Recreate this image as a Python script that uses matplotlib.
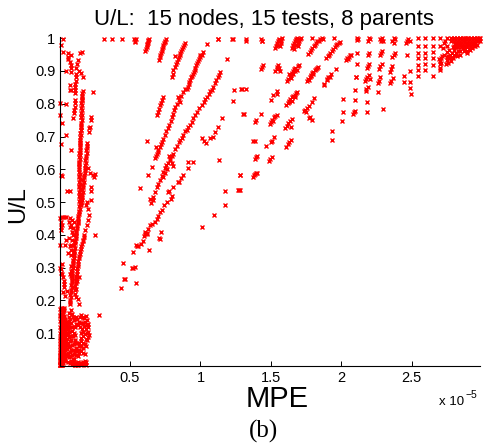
import matplotlib
matplotlib.use('Agg')
import matplotlib.pyplot as plt

plt.rcParams['font.family'] = ['Liberation Sans', 'DejaVu Sans']

# values, MPE in units of 1e-5, U/L as is

# near the y axis, upper part
left_top_x = [.026,.012,.026,.057,.062,.085,.062,.078,.083,.083,.081,.128,.123,.116,.047,.120,.140,.152,.166,.145,.160,.117,.114,.112,.111,.111,.111,.078,.071,.085,.235,.003,.047,.109,.107,.107,.104,.102,.007,.099,.017,.220,.220,.043,.014,.085,.209,.206,.216,.012,.016,.052,.073,.204,.213,.238,.250,.247,.225,.220,.222]
left_top_y = [.998,.979,.958,.955,.943,.948,.936,.928,.918,.908,.898,.933,.920,.908,.900,.892,.900,.894,.882,.956,.958,.880,.870,.861,.852,.842,.832,.856,.843,.841,.835,.803,.799,.811,.801,.791,.781,.771,.765,.755,.741,.760,.750,.705,.676,.658,.725,.715,.730,.582,.580,.535,.535,.605,.590,.582,.585,.575,.545,.535,.505]

# the long streaks beside the axis
streak_a_x = [.165,.163,.162,.161,.160,.159,.157,.155,.153,.150,.148,.147,.146,.145,.142,.140,.140,.142,.143,.145,.146,.147,.146,.145,.142,.138,.134,.130,.125,.119,.116,.112,.108,.105,.101,.098,.094,.092,.090,.088,.086,.082,.080,.078,.158,.152,.149,.146,.141,.137,.136,.139,.141,.150,.140,.128,.120,.110,.105,.098]
streak_a_y = [.840,.825,.810,.795,.780,.765,.750,.735,.720,.705,.690,.675,.660,.645,.630,.615,.600,.585,.570,.555,.540,.525,.510,.495,.480,.465,.450,.435,.420,.405,.390,.375,.360,.345,.330,.315,.300,.285,.270,.255,.240,.225,.210,.195,.810,.760,.720,.680,.650,.620,.580,.545,.520,.500,.470,.440,.410,.380,.350,.320]
streak_a2_x = [.160,.158,.156,.155,.153,.152,.151,.149,.147,.146,.144,.143,.142,.140,.138,.136,.135,.136,.138,.140,.141,.142,.141,.139,.136,.132,.128,.124,.120,.114,.110,.106,.103,.100,.097,.094,.091,.088,.086,.084,.082,.078,.076,.074]
streak_a2_y = [.832,.818,.802,.788,.772,.758,.742,.728,.712,.698,.682,.668,.652,.638,.622,.608,.592,.578,.562,.548,.532,.518,.502,.488,.472,.458,.442,.428,.412,.398,.382,.368,.352,.338,.322,.308,.292,.278,.262,.248,.232,.218,.202,.188]
streak_b_x = [.197,.195,.192,.190,.187,.184,.180,.176,.172,.168,.165,.162,.158,.155,.150,.186,.197,.204,.207,.200,.192,.183,.176,.168,.155,.145,.139,.134,.129,.125,.120,.116,.112,.110,.135,.125,.120,.110]
streak_b_y = [.680,.665,.650,.635,.620,.605,.590,.575,.560,.545,.530,.515,.505,.497,.490,.490,.500,.480,.460,.445,.430,.415,.400,.385,.365,.350,.335,.320,.305,.290,.275,.260,.245,.232,.270,.260,.235,.220]
streak_b2_x = [.192,.190,.186,.184,.181,.178,.174,.170,.166,.162,.159,.156,.153,.172,.164,.158,.150,.142,.136,.130,.126,.122,.118,.114]
streak_b2_y = [.672,.658,.642,.628,.612,.598,.582,.568,.552,.538,.522,.510,.500,.395,.380,.372,.358,.342,.328,.312,.298,.282,.268,.252]
streak_c_x = [.083,.080,.078,.085,.090,.085,.080,.075,.070,.085,.095,.100,.095,.088,.080,.060,.045,.040,.018,.010,.003,.002,.012,.020,.025,.030,.035,.007,.010,.014,.020,.030,.016,.008,.078,.086,.251,.282,.048,.066,.075,.090,.055,.040,.030,.024]
streak_c_y = [.305,.290,.280,.275,.260,.355,.340,.365,.390,.430,.420,.440,.400,.385,.370,.346,.385,.370,.430,.415,.370,.300,.295,.280,.270,.260,.250,.450,.440,.425,.455,.455,.310,.285,.450,.445,.401,.157,.455,.440,.425,.410,.230,.215,.240,.225]

# dense patch at the origin
origin_x = [.000,.002,.004,.006,.008,.010,.012,.015,.018,.020,.000,.002,.005,.008,.011,.014,.017,.020,.023,.026,.000,.003,.006,.009,.012,.016,.020,.024,.028,.032,.036,.040,.000,.004,.008,.012,.016,.020,.024,.028,.034,.040,.046,.052,.058,.001,.005,.009,.013,.018,.023,.028,.033,.038,.044,.050,.056,.062,.068,.074,.002,.007,.012,.017,.022,.027,.032,.037,.042,.048,.054,.060,.066,.072,.078,.084,.090,.003,.008,.013,.018,.024,.030,.036,.042,.048,.054,.060,.066,.072,.078,.084,.090,.096,.102,.108,.004,.010,.016,.022,.028,.034,.040,.046,.052,.058,.064,.070,.076,.082,.088,.094,.100,.106,.003,.009,.015,.021,.027,.033,.039,.045,.060,.070,.080,.090,.098,.104,.002,.006,.010,.014,.018,.022,.026,.030,.034,.065,.075,.085,.092,.100,.108,.003,.008,.013,.017,.021,.025,.029,.033,.070,.080,.088,.095,.102,.110]
origin_y = [.002,.004,.002,.006,.003,.005,.002,.004,.006,.002,.015,.012,.018,.011,.016,.012,.018,.014,.010,.016,.030,.026,.034,.028,.032,.025,.035,.028,.032,.026,.020,.014,.048,.044,.052,.045,.050,.043,.052,.046,.040,.048,.036,.030,.012,.066,.062,.070,.064,.068,.060,.070,.062,.066,.058,.064,.052,.040,.026,.010,.084,.080,.088,.082,.086,.078,.088,.080,.084,.076,.082,.070,.058,.044,.030,.016,.006,.102,.098,.106,.100,.104,.096,.106,.098,.102,.094,.100,.088,.076,.062,.048,.034,.020,.010,.004,.120,.116,.124,.118,.122,.114,.124,.116,.120,.112,.118,.104,.092,.078,.064,.050,.036,.020,.138,.134,.142,.136,.140,.132,.142,.134,.128,.136,.120,.108,.090,.066,.156,.152,.160,.154,.158,.150,.160,.152,.148,.150,.142,.130,.118,.102,.080,.174,.170,.178,.172,.176,.168,.178,.170,.162,.170,.160,.150,.140,.120]
blob_x = [.115,.125,.135,.145,.155,.165,.175,.185,.195,.205,.115,.130,.150,.165,.180,.195,.205,.145,.160,.175,.190,.205,.212,.110,.150,.165,.180,.195,.205,.110,.125,.140,.155,.170,.185,.195,.120,.135,.150,.165,.180,.110,.125,.140,.155,.170,.190,.115,.130,.140,.155,.170,.180,.105,.095,.100,.108,.115,.122,.128,.135,.146,.150,.156,.120,.130,.135,.165,.172,.180,.185,.190]
blob_y = [.150,.142,.135,.150,.156,.150,.145,.152,.140,.128,.128,.125,.130,.132,.135,.125,.118,.120,.112,.122,.114,.105,.095,.095,.100,.105,.098,.102,.088,.072,.070,.070,.085,.090,.082,.078,.055,.060,.075,.070,.068,.045,.045,.050,.062,.055,.060,.035,.030,.040,.045,.040,.038,.005,.012,.008,.004,.010,.003,.012,.006,.010,.003,.008,.210,.205,.190,.012,.005,.016,.012,.004]

# middle streaks
mid_a_x = [.315,.374,.445,.531,.536,.540,.534,.610,.614,.618,.620,.622,.625,.628,.630,.632,.708,.712,.716,.720,.724,.728,.732,.736,.742,.748,.752,.756,.796,.802,.808,.816,.824,.832,.840,.846,.852,.858,.864,.870,.878,.884,.891,.818,1.045]
mid_a_y = [.998,.998,.998,.996,.992,.998,.988,.962,.968,.972,.978,.982,.986,.990,.994,.998,.933,.942,.950,.956,.962,.968,.974,.978,.984,.988,.992,.996,.882,.892,.902,.912,.920,.928,.936,.942,.948,.954,.960,.966,.972,.978,.984,.945,.981]
mid_b_x = [.903,.910,.916,.922,.928,.934,.940,.946,.952,.958,.964,.970,.976,.982,.988,.994,1.000,1.008,1.020,.678,.684,.690,.696,.702,.710,.718,.726,.737,.748,.758,.768,.778,.788,.796,.804,.812,.820,.832,.845,.860,.875,.890,.690,.700,.708,.716,.722,.730,.737,.618,.683,.840,.852]
mid_b_y = [.846,.852,.860,.866,.872,.880,.886,.892,.898,.904,.910,.918,.924,.930,.936,.942,.948,.950,.958,.633,.640,.648,.654,.660,.668,.676,.682,.692,.704,.716,.726,.736,.748,.760,.770,.780,.790,.800,.812,.824,.836,.845,.765,.775,.785,.795,.802,.812,.820,.687,.668,.820,.805]
mid_c_x = [.666,.678,.690,.700,.713,.725,.735,.745,.755,.772,.785,.795,.808,.820,.832,.845,.855,.867,.878,.890,.902,.915,.925,.938,.950,.962,.975,.990,1.010,1.022,1.034,1.046,1.058,1.070,1.080,1.092,1.102,1.112,1.122,1.132,1.140,.775,.785,.795,.805,.760,.748,.736]
mid_c_y = [.516,.530,.545,.556,.567,.580,.592,.604,.612,.618,.628,.640,.648,.662,.672,.684,.689,.696,.706,.716,.720,.728,.736,.745,.756,.766,.774,.786,.796,.806,.814,.822,.830,.838,.841,.852,.862,.872,.880,.888,.897,.640,.630,.620,.610,.600,.590,.578]
mid_d_x = [.760,.740,.726,.713,.700,.690,.676,.654,.645,.630,.620,.607,.600,.590,.575,.560,.547,.540,.524,.536,.525,.515,.453,.457,.465,.434,.543,.635,.720,.706,.712,1.012,1.097,1.173,.571,.630,.654,.915,.945,.915,.879,.844,.772,.808,.860,.850,.800,.790,.780,.665,.650,.640,.620,.610]
mid_d_y = [.500,.490,.476,.470,.458,.448,.440,.433,.430,.418,.406,.404,.396,.380,.372,.366,.366,.370,.349,.303,.300,.298,.313,.266,.266,.239,.254,.354,.410,.391,.388,.425,.461,.491,.542,.582,.608,.621,.623,.603,.582,.562,.531,.547,.572,.560,.520,.510,.535,.505,.498,.510,.402,.410]
mid_e_x = [1.010,1.026,1.040,1.070,1.088,1.105,1.122,1.150,1.133,1.282,1.175,1.265,1.272,1.235,1.230,1.287,1.306,1.187,1.123,1.128,1.223,1.228,1.293,1.324,1.320,1.325]
mid_e_y = [.694,.685,.681,.694,.700,.715,.730,.755,.628,.582,.533,.536,.536,.841,.808,.846,.770,.935,.998,.998,.998,.998,.846,.844,.996,.992]

# diagonal clusters on the right
right_a_x = [1.430,1.440,1.435,1.530,1.535,1.540,1.545,1.550,1.555,1.560,1.565,1.570,1.575,1.580,1.648,1.655,1.660,1.665,1.670,1.675,1.680,1.685,1.690,1.695,1.700,1.705,1.712,1.665,1.680,1.695,1.766,1.776,1.786,1.795,1.804,1.814,1.822,1.830,1.840,1.850,1.861,1.795,1.868,1.892,1.902,1.912,1.922,1.932,1.942,1.952,1.962,1.972,1.982,1.991,1.949,2.030,2.040,2.046,2.055,2.062,2.070]
right_a_y = [.998,.992,.990,.970,.975,.980,.985,.990,.995,.998,.975,.985,.992,1.000,.970,.975,.980,.985,.990,.995,.998,1.000,.975,.985,.992,.998,1.000,.968,.978,.988,.953,.958,.965,.970,.975,.980,.985,.990,.992,.996,.999,.999,.998,.938,.945,.950,.955,.962,.968,.972,.978,.982,.985,.989,.999,.932,.940,.936,.943,.948,.950]
right_b_x = [1.428,1.435,1.442,1.532,1.540,1.546,1.552,1.558,1.565,1.612,1.622,1.632,1.640,1.650,1.658,1.666,1.674,1.682,1.690,1.702,1.625,1.640,1.655,1.670,1.754,1.764,1.774,1.784,1.792,1.800,1.810,1.820,1.830,1.837,1.770,1.785,1.800,1.880,1.900,1.908,1.925,1.540,1.518,1.504,1.545,1.608,1.618,1.628,1.638,1.648,1.658,1.668,1.678,1.688,1.630,1.650,1.670,1.735,1.745,1.755,1.770,1.790,1.807,1.750]
right_b_y = [.905,.913,.918,.900,.912,.905,.918,.908,.900,.870,.876,.882,.888,.895,.900,.905,.910,.902,.915,.918,.890,.878,.892,.900,.870,.876,.882,.888,.893,.898,.903,.907,.910,.913,.872,.885,.892,.858,.875,.882,.890,.831,.826,.811,.840,.796,.802,.808,.814,.820,.824,.828,.832,.836,.806,.808,.820,.777,.782,.786,.794,.804,.816,.776]
right_c_x = [1.490,1.500,1.510,1.520,1.530,1.546,1.515,1.600,1.612,1.624,1.636,1.648,1.640,1.770,1.780,1.790,1.392,1.386,1.428,1.305,1.375,1.385,1.506,1.500,1.522,1.466,1.608,1.620,1.630,1.642,1.392,1.384,1.398,1.487,1.496,1.506,1.372,1.380,1.388,1.396,1.404,1.281,1.281]
right_c_y = [.738,.744,.750,.758,.762,.767,.748,.725,.732,.740,.746,.753,.728,.755,.760,.750,.750,.745,.770,.768,.685,.685,.687,.684,.698,.671,.668,.676,.682,.690,.636,.630,.640,.625,.632,.638,.576,.582,.585,.590,.588,.582,.536]
right_d_x = [2.114,2.110,2.118,2.197,2.190,2.204,2.282,2.275,2.292,2.287,2.370,2.360,2.380,2.375,2.455,2.465,2.475,2.490,2.114,2.197,2.190,2.282,2.276,2.288,2.370,2.362,2.378,2.465,2.110,2.105,2.188,2.180,2.195,2.275,2.265,2.285,2.352,2.360,2.345,2.105,2.165,2.175,2.185,2.195,2.205,2.265,2.275,2.260,2.355,2.345,2.365,2.098,2.098,2.172,2.178,2.186,2.263,2.181,2.015,2.010,2.090,2.085,2.095,2.183,2.297,2.005,1.934,1.934,1.876,1.895,1.920,1.960]
right_d_y = [.999,.995,.996,.999,.992,.996,.990,.998,.992,.999,.985,.992,.996,.999,.985,.992,.998,.990,.956,.956,.950,.955,.948,.960,.948,.942,.955,.948,.921,.880,.915,.908,.920,.915,.905,.922,.905,.915,.898,.880,.868,.876,.882,.888,.876,.870,.880,.862,.870,.862,.878,.843,.811,.838,.846,.850,.837,.806,.814,.775,.774,.768,.778,.774,.783,.746,.716,.689,.860,.872,.882,.905]

# grid of points in the top right corner
grid_x = [2.488,2.488,2.488,2.492,2.441,2.441,2.650,2.543,2.543,2.543,2.543,2.543,2.543,2.543,2.595,2.595,2.595,2.595,2.595,2.595,2.647,2.647,2.647,2.647,2.647,2.697,2.697,2.702,2.702,2.702,2.702,2.690,2.749,2.749,2.749,2.749,2.749,2.760,2.770,2.796,2.796,2.796,2.796,2.785,2.844,2.844,2.844,2.844,2.820,2.891,2.891,2.891,2.891,2.939,2.939,2.939,2.986,2.986,2.970,2.965,2.950,2.925,2.910,2.905,2.880,2.870,2.860,2.830,2.815,2.810,2.780,2.770,2.765,2.735,2.725,2.720,2.780,2.800,2.820,2.840,2.860,2.880,2.900,2.920,2.940,2.960,2.975,2.800,2.820,2.840,2.860,2.880,2.900,2.920,2.940,2.960,2.805,2.825,2.845,2.865,2.885,2.905,2.925,2.945,2.790,2.810,2.830,2.850,2.870,2.890,2.910,2.930,2.790,2.760,2.780,2.740,2.730,2.715,2.710,2.705]
grid_y = [.900,.867,.849,.831,.884,.867,.884,.999,.975,.956,.938,.918,.903,.884,.999,.975,.956,.938,.921,.903,.999,.975,.958,.938,.918,.999,.975,.930,.920,.910,.903,.935,.999,.975,.958,.943,.933,.925,.940,.999,.975,.965,.950,.955,.999,.985,.960,.950,.945,.999,.985,.960,.955,.999,.985,.975,.999,.990,.990,.980,.975,.970,.965,.980,.975,.960,.970,.960,.955,.985,.990,.950,.965,.990,.985,.970,.999,.999,.999,.999,.999,.999,.999,.999,.999,.999,.999,.992,.992,.992,.992,.992,.992,.992,.992,.992,.983,.983,.983,.983,.983,.983,.983,.983,.972,.972,.972,.972,.972,.972,.972,.972,.940,.945,.930,.920,.950,.945,.938,.925]

groups = [(left_top_x, left_top_y), (streak_a_x, streak_a_y), (streak_a2_x, streak_a2_y),
          (streak_b_x, streak_b_y), (streak_b2_x, streak_b2_y),
          (streak_c_x, streak_c_y), (origin_x, origin_y), (blob_x, blob_y),
          (mid_a_x, mid_a_y), (mid_b_x, mid_b_y), (mid_c_x, mid_c_y), (mid_d_x, mid_d_y),
          (mid_e_x, mid_e_y), (right_a_x, right_a_y), (right_b_x, right_b_y),
          (right_c_x, right_c_y), (right_d_x, right_d_y), (grid_x, grid_y)]

x_ticks = [0.5, 1, 1.5, 2, 2.5]
x_tick_labels = ['0.5', '1', '1.5', '2', '2.5']
y_ticks = [0.1, 0.2, 0.3, 0.4, 0.5, 0.6, 0.7, 0.8, 0.9, 1]
y_tick_labels = ['0.1', '0.2', '0.3', '0.4', '0.5', '0.6', '0.7', '0.8', '0.9', '1']

W, H = 487, 444
fig = plt.figure(figsize=(W / 100, H / 100), dpi=100)
ax = fig.add_axes([59.5 / W, (H - 366) / H, 420 / W, 328.5 / H])

for gx, gy in groups:
    ax.plot(gx, gy, linestyle='none', marker='x', color='red',
            markersize=3, markeredgewidth=1.0, clip_on=False)

ax.set_xlim(0, 2.98)
ax.set_ylim(0, 1.002)
ax.set_xticks(x_ticks)
ax.set_xticklabels(x_tick_labels)
ax.set_yticks(y_ticks)
ax.set_yticklabels(y_tick_labels)
ax.tick_params(direction='in', length=3.5, width=0.7, labelsize=10.5, pad=3)
ax.tick_params(axis='x', pad=3.5)
ax.spines['top'].set_visible(False)
ax.spines['right'].set_visible(False)

fig.text(264 / W, 1 - 19 / H, 'U/L:  15 nodes, 15 tests, 8 parents', fontsize=16,
         ha='center', va='center')
fig.text(277 / W, 1 - 399 / H, 'MPE', fontsize=21, ha='center', va='center')
fig.text(18 / W, 1 - 205 / H, 'U/L', fontsize=17, rotation=90, ha='center', va='center')
fig.text(439 / W, 1 - 402 / H, 'x 10', fontsize=9.5, ha='left', va='center')
fig.text(466 / W, 1 - 395 / H, '\u22125', fontsize=7.5, ha='left', va='center')
fig.text(263 / W, 1 - 431 / H, '(b)', fontsize=18, ha='center', va='center',
         family='Liberation Serif')

fig.savefig('out.png', dpi=100)
